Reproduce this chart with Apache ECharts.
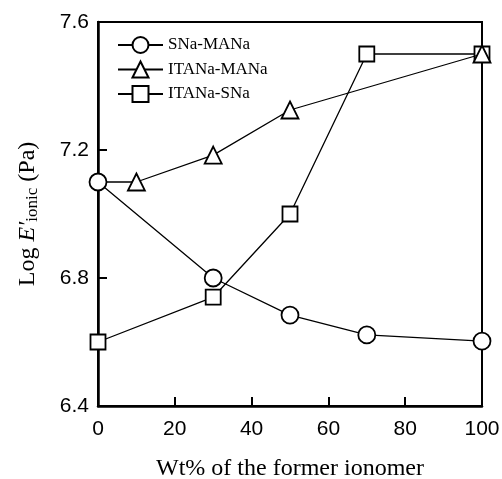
<!DOCTYPE html>
<html><head><meta charset="utf-8">
<script src="https://cdn.jsdelivr.net/npm/echarts@6/dist/echarts.min.js"></script>
<style>html,body{margin:0;padding:0;background:#fff}#c{width:502px;height:479px}</style>
</head><body><div id="c"></div>
<script>
const seriesNames = ["SNa-MANa", "ITANa-MANa", "ITANa-SNa"];
const sNaMANa = [[0, 7.1], [30, 6.8], [50, 6.684], [70, 6.622], [100, 6.603]];
const itaNaMANa = [[0, 7.1], [10, 7.1], [30, 7.184], [50, 7.325], [100, 7.5]];
const itaNaSNa = [[0, 6.6], [30, 6.74], [50, 7.0], [70, 7.5], [100, 7.5]];
const symbols = ["circle", "triangle", "rect"];
const symbolSizes = [17, 17, 15];
const xTicks = [0, 20, 40, 60, 80, 100];
const yTicks = [6.4, 6.8, 7.2, 7.6];

const chart = echarts.init(document.getElementById('c'));
const data = [sNaMANa, itaNaMANa, itaNaSNa];
// marker hidden where it lies under the circle at x=0
const seriesData = data.map((d, i) => d.map((p, j) =>
  (i === 1 && j === 0) ? {value: p, symbol: 'none'} : p));
chart.setOption({
  animation: false,
  backgroundColor: '#fff',
  grid: {left: 98, right: 20, top: 22, bottom: 73, show: true, borderColor: '#000', borderWidth: 2,
    containLabel: false, outerBoundsMode: 'none'},
  legend: {
    left: 112, top: 31, orient: 'vertical', itemGap: 6.5, itemWidth: 45, itemHeight: 20,
    data: seriesNames,
    textStyle: {fontFamily: 'Liberation Serif', fontSize: 17, color: '#000'}
  },
  xAxis: {
    type: 'value', min: 0, max: 100, interval: 20,
    axisLine: {lineStyle: {color: '#000', width: 2.5}},
    axisTick: {inside: true, length: 9, lineStyle: {color: '#000', width: 2}},
    splitLine: {show: false},
    axisLabel: {fontFamily: 'Liberation Sans', fontSize: 21, color: '#000', margin: 13},
    name: 'Wt% of the former ionomer', nameLocation: 'middle', nameGap: 51,
    nameTextStyle: {fontFamily: 'Liberation Serif', fontSize: 24, color: '#000'}
  },
  yAxis: {
    type: 'value', min: 6.4, max: 7.6, interval: 0.4,
    axisLine: {lineStyle: {color: '#000', width: 2.5}},
    axisTick: {inside: true, length: 9, lineStyle: {color: '#000', width: 2}},
    splitLine: {show: false},
    axisLabel: {fontFamily: 'Liberation Sans', fontSize: 21, color: '#000', margin: 9,
      formatter: v => Number(v).toFixed(1)},
    name: '{n|Log }{i|E′}{s|ionic}{n| (Pa)}', nameLocation: 'middle', nameGap: 57,
    nameTextStyle: {
      fontFamily: 'Liberation Serif', fontSize: 24, color: '#000',
      rich: {
        n: {fontFamily: 'Liberation Serif', fontSize: 24, color: '#000'},
        i: {fontFamily: 'Liberation Serif', fontSize: 24, fontStyle: 'italic', color: '#000'},
        s: {fontFamily: 'Liberation Serif', fontSize: 17, color: '#000', verticalAlign: 'bottom', padding: [10, 0, 0, 0]}
      }
    }
  },
  series: seriesData.map((d, i) => ({
    name: seriesNames[i], type: 'line', data: d,
    symbol: symbols[i], symbolSize: symbolSizes[i],
    showAllSymbol: true,
    lineStyle: {color: '#000', width: 1.3},
    itemStyle: {color: '#fff', borderColor: '#000', borderWidth: 1.8},
    z: 3 - i
  }))
});
</script></body></html>
